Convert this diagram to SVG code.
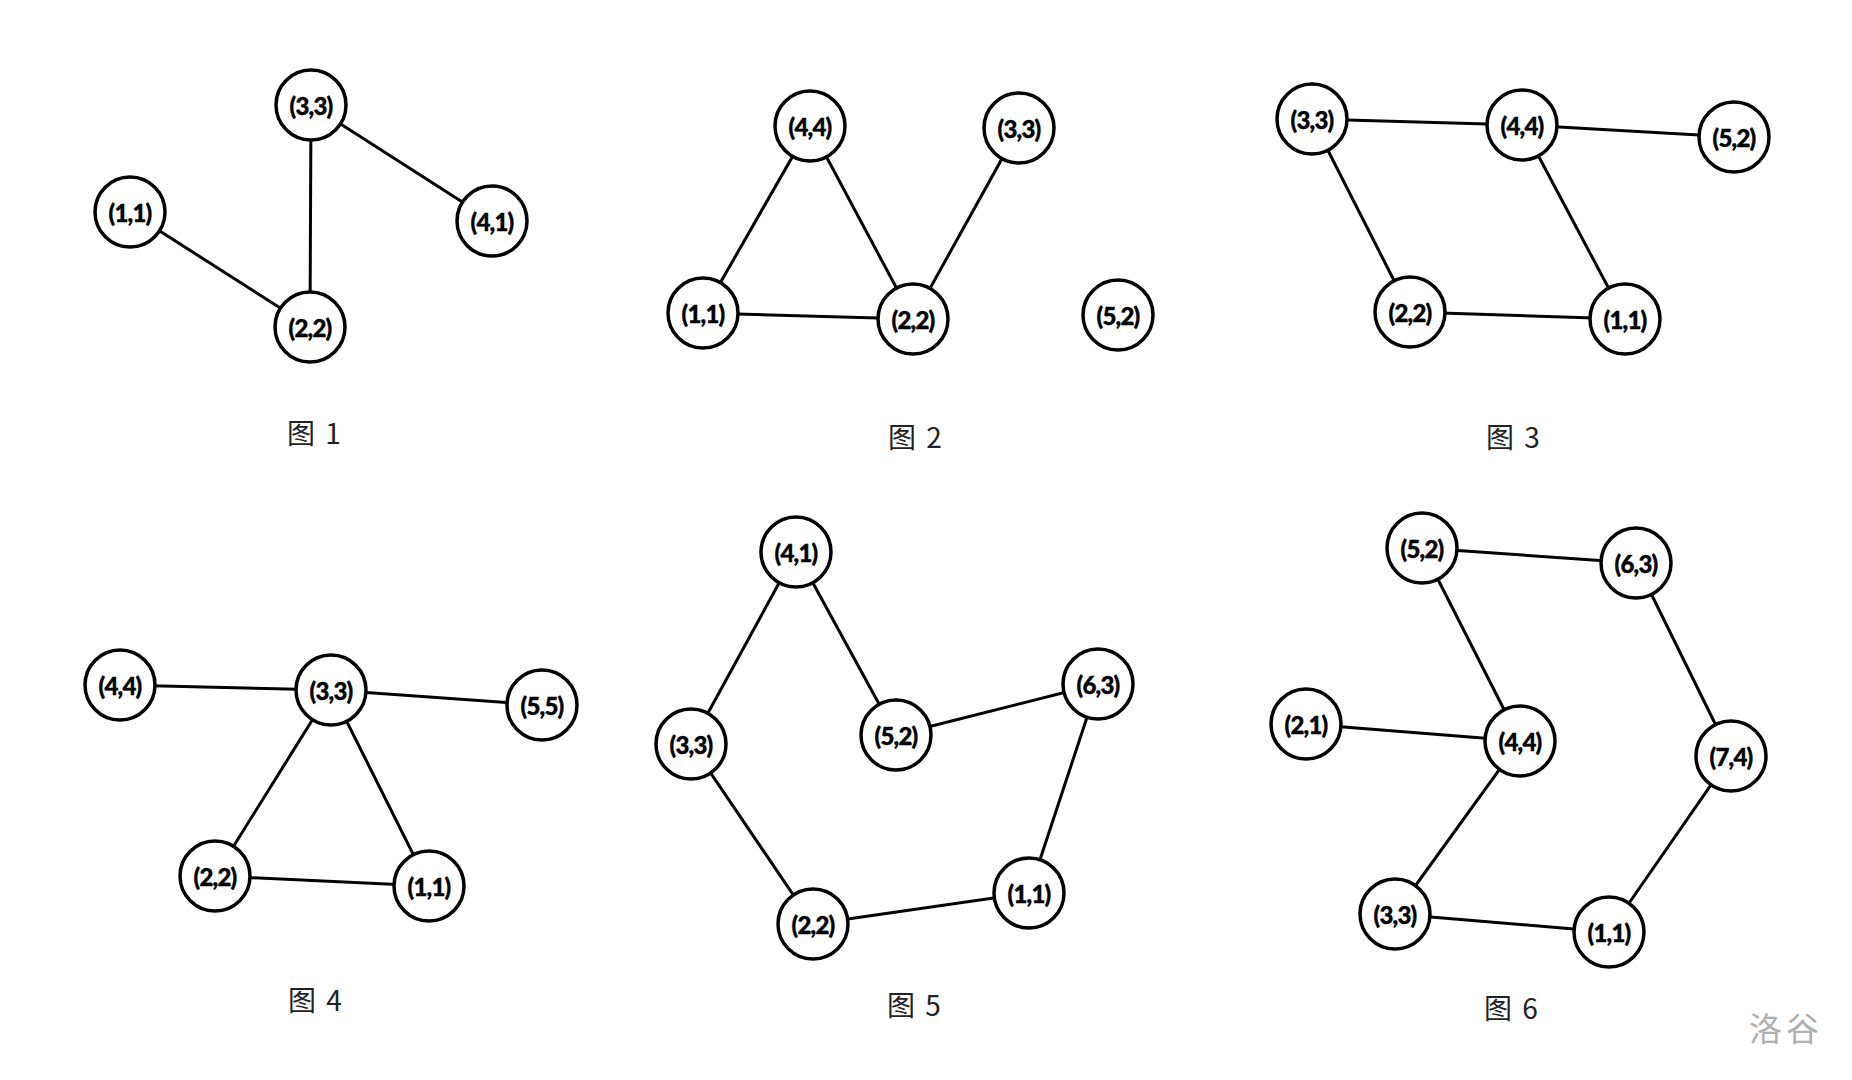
<svg xmlns="http://www.w3.org/2000/svg" width="1852" height="1080" viewBox="0 0 1852 1080">
<style>
.e line{stroke:#000;stroke-width:3}
.n circle{fill:#fff;stroke:#000;stroke-width:3.5}
.n text{font-family:Lato,"Open Sans",sans-serif;font-weight:900;font-size:24px;letter-spacing:-0.8px;text-anchor:middle;dominant-baseline:central;fill:#000;stroke:#000;stroke-width:0.4}
.cap{font-family:"Noto Sans CJK SC","Noto Sans",sans-serif;font-size:28px;fill:#222;text-anchor:middle;dominant-baseline:central;word-spacing:4px}
.wm{font-family:"Noto Sans CJK SC",sans-serif;font-size:33px;letter-spacing:4px;fill:#b0b0b0;text-anchor:middle;dominant-baseline:central}
</style>
<rect width="1852" height="1080" fill="#fff"/>
<g id="connectors" class="e">
<line x1="311" y1="105" x2="310" y2="327"/>
<line x1="311" y1="105" x2="492" y2="221"/>
<line x1="130" y1="212" x2="310" y2="327"/>
<line x1="810" y1="126" x2="703" y2="313"/>
<line x1="810" y1="126" x2="913" y2="319"/>
<line x1="703" y1="313" x2="913" y2="319"/>
<line x1="1019" y1="128" x2="913" y2="319"/>
<line x1="1312" y1="119" x2="1522" y2="125"/>
<line x1="1522" y1="125" x2="1734" y2="137"/>
<line x1="1312" y1="119" x2="1410" y2="312"/>
<line x1="1522" y1="125" x2="1625" y2="319"/>
<line x1="1410" y1="312" x2="1625" y2="319"/>
<line x1="120" y1="685" x2="331" y2="690"/>
<line x1="331" y1="690" x2="542" y2="705"/>
<line x1="331" y1="690" x2="215" y2="876"/>
<line x1="331" y1="690" x2="429" y2="886"/>
<line x1="215" y1="876" x2="429" y2="886"/>
<line x1="796" y1="552" x2="691" y2="744"/>
<line x1="796" y1="552" x2="896" y2="735"/>
<line x1="896" y1="735" x2="1098" y2="684"/>
<line x1="1098" y1="684" x2="1029" y2="893"/>
<line x1="1029" y1="893" x2="813" y2="924"/>
<line x1="813" y1="924" x2="691" y2="744"/>
<line x1="1422" y1="548" x2="1636" y2="563"/>
<line x1="1422" y1="548" x2="1520" y2="741"/>
<line x1="1636" y1="563" x2="1731" y2="756"/>
<line x1="1306" y1="724" x2="1520" y2="741"/>
<line x1="1520" y1="741" x2="1395" y2="914"/>
<line x1="1731" y1="756" x2="1609" y2="932"/>
<line x1="1395" y1="914" x2="1609" y2="932"/>
</g>
<g id="f1-33" class="n"><circle cx="311" cy="105" r="35"/><text x="311" y="105">(3,3)</text></g>
<g id="f1-11" class="n"><circle cx="130" cy="212" r="35"/><text x="130" y="212">(1,1)</text></g>
<g id="f1-41" class="n"><circle cx="492" cy="221" r="35"/><text x="492" y="221">(4,1)</text></g>
<g id="f1-22" class="n"><circle cx="310" cy="327" r="35"/><text x="310" y="327">(2,2)</text></g>
<text id="cap1" class="cap" x="314" y="432">图 1</text>
<g id="f2-44" class="n"><circle cx="810" cy="126" r="35"/><text x="810" y="126">(4,4)</text></g>
<g id="f2-33" class="n"><circle cx="1019" cy="128" r="35"/><text x="1019" y="128">(3,3)</text></g>
<g id="f2-11" class="n"><circle cx="703" cy="313" r="35"/><text x="703" y="313">(1,1)</text></g>
<g id="f2-22" class="n"><circle cx="913" cy="319" r="35"/><text x="913" y="319">(2,2)</text></g>
<g id="f2-52" class="n"><circle cx="1118" cy="315" r="35"/><text x="1118" y="315">(5,2)</text></g>
<text id="cap2" class="cap" x="915" y="436">图 2</text>
<g id="f3-33" class="n"><circle cx="1312" cy="119" r="35"/><text x="1312" y="119">(3,3)</text></g>
<g id="f3-44" class="n"><circle cx="1522" cy="125" r="35"/><text x="1522" y="125">(4,4)</text></g>
<g id="f3-52" class="n"><circle cx="1734" cy="137" r="35"/><text x="1734" y="137">(5,2)</text></g>
<g id="f3-22" class="n"><circle cx="1410" cy="312" r="35"/><text x="1410" y="312">(2,2)</text></g>
<g id="f3-11" class="n"><circle cx="1625" cy="319" r="35"/><text x="1625" y="319">(1,1)</text></g>
<text id="cap3" class="cap" x="1513" y="436">图 3</text>
<g id="f4-44" class="n"><circle cx="120" cy="685" r="35"/><text x="120" y="685">(4,4)</text></g>
<g id="f4-33" class="n"><circle cx="331" cy="690" r="35"/><text x="331" y="690">(3,3)</text></g>
<g id="f4-55" class="n"><circle cx="542" cy="705" r="35"/><text x="542" y="705">(5,5)</text></g>
<g id="f4-22" class="n"><circle cx="215" cy="876" r="35"/><text x="215" y="876">(2,2)</text></g>
<g id="f4-11" class="n"><circle cx="429" cy="886" r="35"/><text x="429" y="886">(1,1)</text></g>
<text id="cap4" class="cap" x="315" y="999">图 4</text>
<g id="f5-41" class="n"><circle cx="796" cy="552" r="35"/><text x="796" y="552">(4,1)</text></g>
<g id="f5-52" class="n"><circle cx="896" cy="735" r="35"/><text x="896" y="735">(5,2)</text></g>
<g id="f5-63" class="n"><circle cx="1098" cy="684" r="35"/><text x="1098" y="684">(6,3)</text></g>
<g id="f5-33" class="n"><circle cx="691" cy="744" r="35"/><text x="691" y="744">(3,3)</text></g>
<g id="f5-22" class="n"><circle cx="813" cy="924" r="35"/><text x="813" y="924">(2,2)</text></g>
<g id="f5-11" class="n"><circle cx="1029" cy="893" r="35"/><text x="1029" y="893">(1,1)</text></g>
<text id="cap5" class="cap" x="914" y="1004">图 5</text>
<g id="f6-52" class="n"><circle cx="1422" cy="548" r="35"/><text x="1422" y="548">(5,2)</text></g>
<g id="f6-63" class="n"><circle cx="1636" cy="563" r="35"/><text x="1636" y="563">(6,3)</text></g>
<g id="f6-21" class="n"><circle cx="1306" cy="724" r="35"/><text x="1306" y="724">(2,1)</text></g>
<g id="f6-44" class="n"><circle cx="1520" cy="741" r="35"/><text x="1520" y="741">(4,4)</text></g>
<g id="f6-74" class="n"><circle cx="1731" cy="756" r="35"/><text x="1731" y="756">(7,4)</text></g>
<g id="f6-33" class="n"><circle cx="1395" cy="914" r="35"/><text x="1395" y="914">(3,3)</text></g>
<g id="f6-11" class="n"><circle cx="1609" cy="932" r="35"/><text x="1609" y="932">(1,1)</text></g>
<text id="cap6" class="cap" x="1511" y="1007">图 6</text>
<text id="watermark" class="wm" x="1786" y="1027">洛谷</text>
</svg>
